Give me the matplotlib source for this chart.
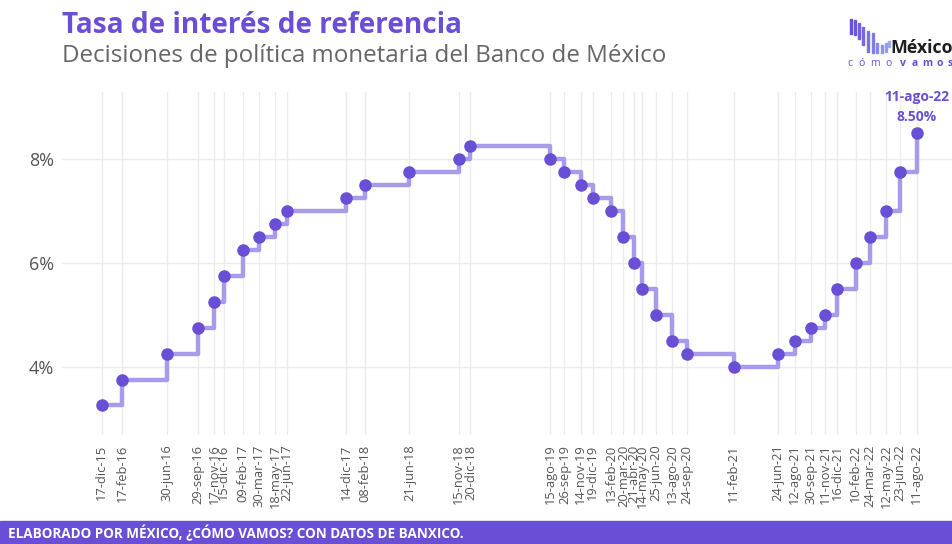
import matplotlib
matplotlib.use("Agg")
import matplotlib.pyplot as plt
from matplotlib.patches import Rectangle
import pandas as pd

plt.rcParams['font.family'] = ['Open Sans', 'DejaVu Sans']

dates = ["2015-12-17", "2016-02-17", "2016-06-30", "2016-09-29", "2016-11-17", "2016-12-15",
         "2017-02-09", "2017-03-30", "2017-05-18", "2017-06-22", "2017-12-14", "2018-02-08",
         "2018-06-21", "2018-11-15", "2018-12-20", "2019-08-15", "2019-09-26", "2019-11-14",
         "2019-12-19", "2020-02-13", "2020-03-20", "2020-04-21", "2020-05-14", "2020-06-25",
         "2020-08-13", "2020-09-24", "2021-02-11", "2021-06-24", "2021-08-12", "2021-09-30",
         "2021-11-11", "2021-12-16", "2022-02-10", "2022-03-24", "2022-05-12", "2022-06-23",
         "2022-08-11"]
rates = [3.25, 3.75, 4.25, 4.75, 5.25, 5.75, 6.25, 6.50, 6.75, 7.00, 7.25, 7.50, 7.75, 8.00,
         8.25, 8.00, 7.75, 7.50, 7.25, 7.00, 6.50, 6.00, 5.50, 5.00, 4.50, 4.25, 4.00, 4.25,
         4.50, 4.75, 5.00, 5.50, 6.00, 6.50, 7.00, 7.75, 8.50]
labels = ["17-dic-15", "17-feb-16", "30-jun-16", "29-sep-16", "17-nov-16", "15-dic-16",
          "09-feb-17", "30-mar-17", "18-may-17", "22-jun-17", "14-dic-17", "08-feb-18",
          "21-jun-18", "15-nov-18", "20-dic-18", "15-ago-19", "26-sep-19", "14-nov-19",
          "19-dic-19", "13-feb-20", "20-mar-20", "21-abr-20", "14-may-20", "25-jun-20",
          "13-ago-20", "24-sep-20", "11-feb-21", "24-jun-21", "12-ago-21", "30-sep-21",
          "11-nov-21", "16-dic-21", "10-feb-22", "24-mar-22", "12-may-22", "23-jun-22",
          "11-ago-22"]
yticks = [4, 6, 8]

PURPLE = "#6a4fd6"
LIGHT = "#a99bec"
GRAY = "#555555"

x = pd.to_datetime(dates)

W, H = 953, 544
fig = plt.figure(figsize=(W / 100, H / 100), dpi=100)
ax = fig.add_axes([62 / W, 1 - 435 / H, (W - 62) / W, (435 - 92) / H])

ax.step(x, rates, where="post", color=LIGHT, lw=3.2, zorder=2)
ax.plot(x, rates, "o", color=PURPLE, ms=8, zorder=3)

x0 = x[0] - pd.Timedelta(days=118)
x1 = x[-1] + pd.Timedelta(days=108)
ax.set_xlim(x0, x1)
ax.set_ylim(2.68, 9.30)

ax.set_xticks(x)
ax.set_xticklabels(labels, rotation=90, fontsize=9.3, color=GRAY)
ax.set_yticks(yticks)
ax.set_yticklabels([f"{v}%" for v in yticks], fontsize=13, color=GRAY)
ax.tick_params(axis="both", length=0)
ax.tick_params(axis="x", pad=7)
ax.tick_params(axis="y", pad=6)
ax.grid(True, color="#ececec", lw=1)
ax.set_axisbelow(True)
for s in ax.spines.values():
    s.set_visible(False)

# annotation of last decision
ax.annotate(labels[-1], xy=(x[-1], rates[-1]), xytext=(0, 26), textcoords="offset points",
            ha="center", va="center", fontsize=10, color=PURPLE, fontweight="bold")
ax.annotate(f"{rates[-1]:.2f}%", xy=(x[-1], rates[-1]), xytext=(0, 11.5), textcoords="offset points",
            ha="center", va="center", fontsize=10, color=PURPLE, fontweight="bold")

# titles
fig.text(62 / W, 1 - 33 / H, "Tasa de interés de referencia", fontsize=20.2, fontweight="bold",
         color=PURPLE, ha="left", va="baseline")
fig.text(62 / W, 1 - 62 / H, "Decisiones de política monetaria del Banco de México", fontsize=17.4,
         color="#666666", ha="left", va="baseline")

# footer band
fig.patches.append(Rectangle((0, 0), 1, 23 / H, transform=fig.transFigure, color=PURPLE, zorder=0))
fig.text(8 / W, 10.5 / H, "ELABORADO POR MÉXICO, ¿CÓMO VAMOS? CON DATOS DE BANXICO.",
         fontweight="bold", fontsize=9.75, color="white", ha="left", va="center")

# logo
bar_x = [850, 854.5, 858, 862, 867, 872, 876.5, 881, 885, 888.5]
bar_top = [19, 20, 23, 27, 31, 33, 43, 45, 43, 41]
bar_bot = [34, 35, 39, 45, 52, 53, 53, 53, 52, 47]
cols = ["#6a4fd6", "#6c55d8", "#705edb", "#7568dd", "#7a72e0", "#807de2", "#8688e5", "#8c93e8",
        "#929eea", "#98a8ed"]
for bx, bt, bb, c in zip(bar_x, bar_top, bar_bot, cols):
    fig.patches.append(Rectangle((bx / W, 1 - bb / H), 2 / W, (bb - bt) / H,
                                 transform=fig.transFigure, color=c))
fig.text(890 / W, 1 - 53 / H, "México", fontsize=12.8, fontweight="bold", color="#1e1e1e",
         ha="left", va="baseline")
logo_letters = list("cómovamos")
logo_x = [850, 862, 875, 889, 903, 915, 927, 940, 950]
for i, (ch, lx) in enumerate(zip(logo_letters, logo_x)):
    fig.text(lx / W, 1 - 66 / H, ch, fontsize=7.5, color=PURPLE,
             fontweight="bold" if i >= 4 else "normal", ha="center", va="baseline")

fig.savefig("out.png", dpi=100)
